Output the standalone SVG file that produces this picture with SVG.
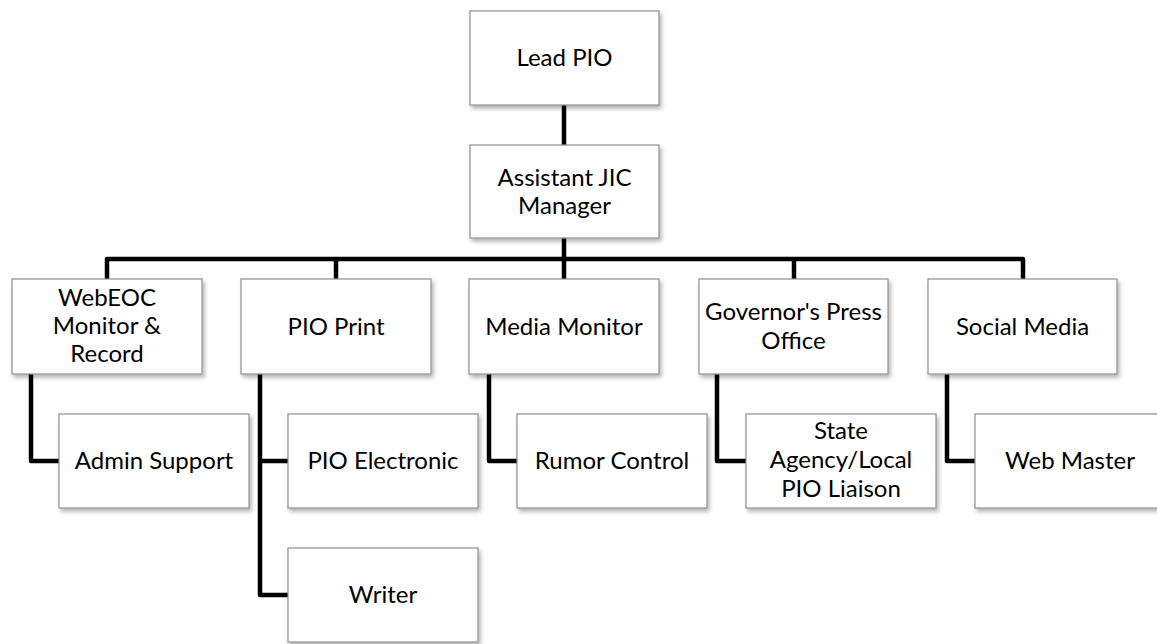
<svg xmlns="http://www.w3.org/2000/svg" width="1157" height="644" viewBox="0 0 1157 644">
  <defs>
    <filter id="shadow" x="-10%" y="-10%" width="125%" height="130%">
      <feDropShadow dx="2" dy="3" stdDeviation="2" flood-color="#000" flood-opacity="0.3"/>
    </filter>
    <style>
      .box { fill: #fff; stroke: #8f8f8f; stroke-width: 1.2; filter: url(#shadow); }
      .lbl { font-family: Lato, "Open Sans", "Liberation Sans", sans-serif; font-size: 24px; fill: #000; text-anchor: middle; }
      .wire { fill: none; stroke: #000; stroke-width: 4.5; stroke-linejoin: round; stroke-linecap: butt; }
    </style>
  </defs>
  <rect width="1157" height="644" fill="#fff"/>

  <!-- connectors -->
  <g id="connectors" class="wire">
    <path d="M564 105 V145"/>
    <path d="M564 238 V279"/>
    <path d="M107 279 V259 H1023 V279"/>
    <path d="M336 259 V279"/>
    <path d="M794 259 V279"/>
    <path d="M31 374 V461 H59"/>
    <path d="M260 374 V595 H288"/>
    <path d="M260 461 H288"/>
    <path d="M489 374 V461 H517"/>
    <path d="M717 374 V461 H746"/>
    <path d="M947 374 V461 H975"/>
  </g>

  <!-- top of the chart -->
  <g id="lead-pio">
    <rect class="box" x="470" y="11" width="189" height="94"/>
    <text class="lbl" x="564.5" y="66">Lead PIO</text>
  </g>
  <g id="assistant-jic-manager">
    <rect class="box" x="470" y="145" width="189" height="93"/>
    <text class="lbl" x="564.5" y="186">Assistant JIC</text>
    <text class="lbl" x="564.5" y="214">Manager</text>
  </g>

  <!-- second tier -->
  <g id="webeoc-monitor">
    <rect class="box" x="12" y="279" width="190" height="95"/>
    <text class="lbl" x="107" y="306">WebEOC</text>
    <text class="lbl" x="107" y="334">Monitor &amp;</text>
    <text class="lbl" x="107" y="362">Record</text>
  </g>
  <g id="pio-print">
    <rect class="box" x="241" y="279" width="190" height="95"/>
    <text class="lbl" x="336" y="335">PIO Print</text>
  </g>
  <g id="media-monitor">
    <rect class="box" x="469" y="279" width="190" height="95"/>
    <text class="lbl" x="564" y="335">Media Monitor</text>
  </g>
  <g id="governors-press-office">
    <rect class="box" x="699" y="279" width="189" height="95"/>
    <text class="lbl" x="793.5" y="320">Governor's Press</text>
    <text class="lbl" x="793.5" y="349">Office</text>
  </g>
  <g id="social-media">
    <rect class="box" x="928" y="279" width="189" height="95"/>
    <text class="lbl" x="1022.5" y="335">Social Media</text>
  </g>

  <!-- third tier -->
  <g id="admin-support">
    <rect class="box" x="59" y="414" width="190" height="94"/>
    <text class="lbl" x="154" y="469">Admin Support</text>
  </g>
  <g id="pio-electronic">
    <rect class="box" x="288" y="414" width="190" height="94"/>
    <text class="lbl" x="383" y="469">PIO Electronic</text>
  </g>
  <g id="writer">
    <rect class="box" x="288" y="548" width="190" height="94"/>
    <text class="lbl" x="383" y="603">Writer</text>
  </g>
  <g id="rumor-control">
    <rect class="box" x="517" y="414" width="190" height="94"/>
    <text class="lbl" x="612" y="469">Rumor Control</text>
  </g>
  <g id="state-agency-liaison">
    <rect class="box" x="746" y="414" width="190" height="94"/>
    <text class="lbl" x="841" y="439">State</text>
    <text class="lbl" x="841" y="468">Agency/Local</text>
    <text class="lbl" x="841" y="497">PIO Liaison</text>
  </g>
  <g id="web-master">
    <rect class="box" x="975" y="414" width="190" height="94"/>
    <text class="lbl" x="1070" y="469">Web Master</text>
  </g>
</svg>
